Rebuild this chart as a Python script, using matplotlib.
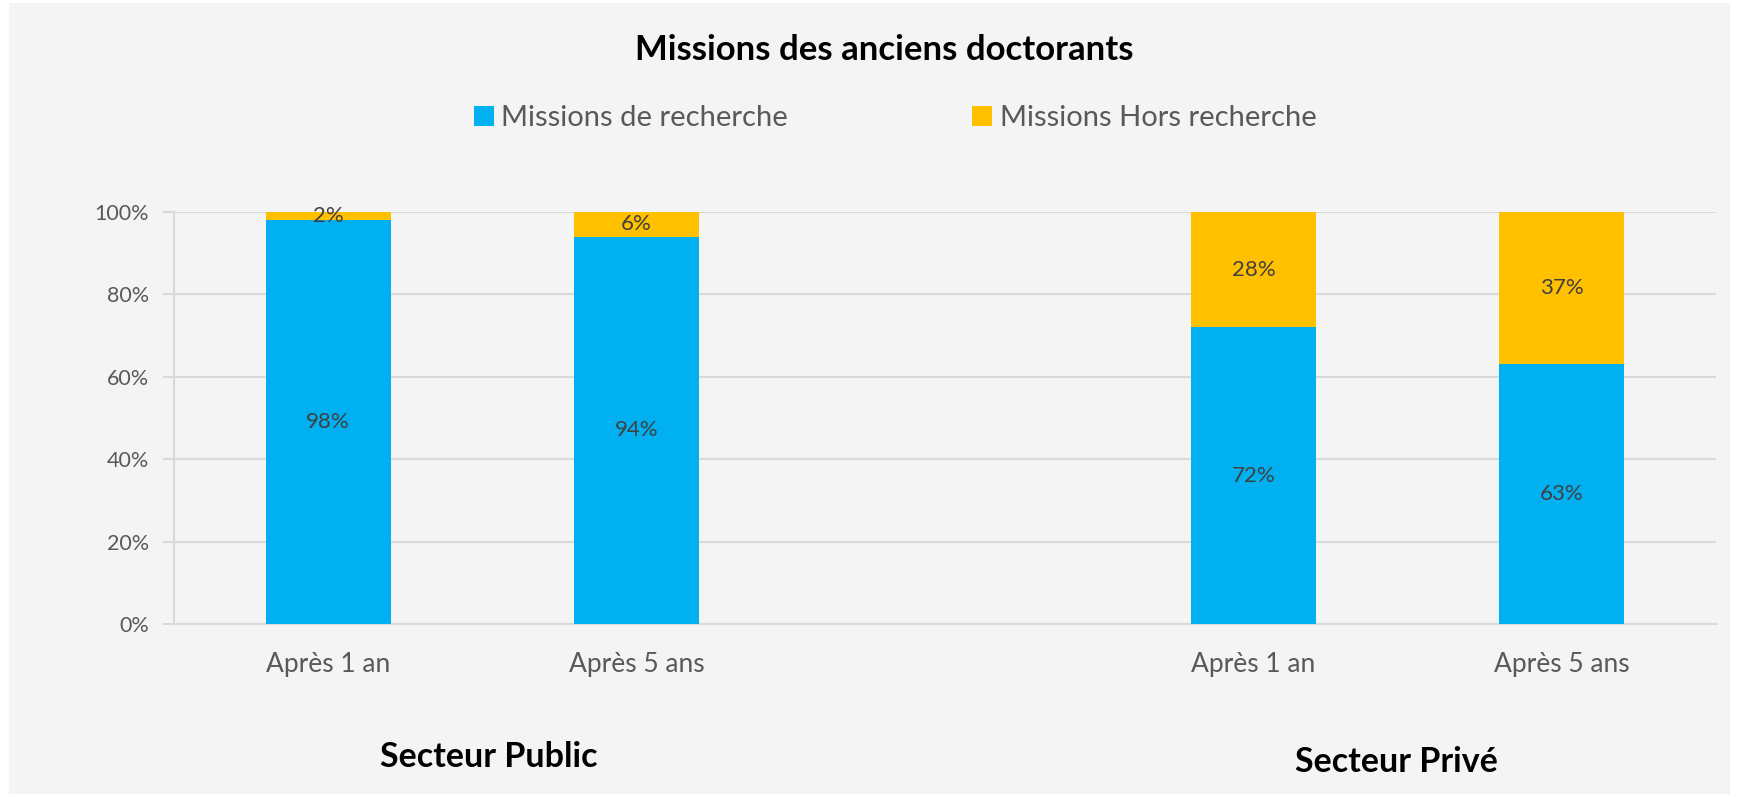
import numpy as np
import matplotlib.pyplot as plt
from matplotlib.patches import Rectangle

# data
secteurs = ["Secteur Public", "Secteur Privé"]
periodes = ["Après 1 an", "Après 5 ans"]
recherche = [98, 94, 72, 63]      # Missions de recherche (%)
hors_recherche = [2, 6, 28, 37]   # Missions Hors recherche (%)

bleu = "#00B0F0"
orange = "#FFC000"
gris_txt = "#595959"
gris_grid = "#D9D9D9"
fond = "#F4F4F4"

plt.rcParams['font.family'] = ['Lato', 'DejaVu Sans']

fig = plt.figure(figsize=(17.39, 7.97), dpi=100, facecolor="white")
fig.patches.append(Rectangle((9 / 1739, 3 / 797), 1721 / 1739, 791 / 797,
                             transform=fig.transFigure, facecolor=fond,
                             edgecolor="none", zorder=-10))

ax = fig.add_axes([174 / 1739, 1 - 624 / 797, 1542 / 1739, 412 / 797])
ax.set_facecolor(fond)

# two groups of two bars with an empty slot between them
x = []
labels = []
for g, s in enumerate(secteurs):
    for j, p in enumerate(periodes):
        x.append(g * (len(periodes) + 1) + j)
        labels.append(p)
x = np.array(x)

w = 0.405
b1 = ax.bar(x, recherche, w, color=bleu, label="Missions de recherche", zorder=3)
b2 = ax.bar(x, hors_recherche, w, bottom=recherche, color=orange,
            label="Missions Hors recherche", zorder=3)

for xi, r, h in zip(x, recherche, hors_recherche):
    ax.text(xi, r / 2, f"{r}%", ha="center", va="center", fontsize=16,
            color="#404040", zorder=4)
    ax.text(xi, r + h / 2, f"{h}%", ha="center", va="center", fontsize=16,
            color="#404040", zorder=4)

ax.set_xlim(-0.5, x.max() + 0.5)
ax.set_ylim(0, 100)
ax.set_yticks(np.arange(0, 101, 20))
ax.set_yticklabels([f"{v}%" for v in range(0, 101, 20)])
ax.set_xticks(x)
ax.set_xticklabels(labels)
ax.tick_params(axis="y", colors=gris_grid, labelcolor=gris_txt, labelsize=15.5,
               length=8, width=1.5, pad=10)
ax.tick_params(axis="x", length=0, labelcolor=gris_txt, labelsize=19, pad=20)
ax.grid(axis="y", color=gris_grid, linewidth=1.5, zorder=0)
for sp in ["top", "right"]:
    ax.spines[sp].set_visible(False)
for sp in ["left", "bottom"]:
    ax.spines[sp].set_color(gris_grid)
    ax.spines[sp].set_linewidth(1.5)

fig.text(884 / 1739, 1 - 50 / 797, "Missions des anciens doctorants",
         ha="center", va="center", fontsize=25, fontweight="bold", color="black")

fig.legend(handles=[b1, b2], loc="center", bbox_to_anchor=(895 / 1739, 1 - 118 / 797),
           ncol=2, frameon=False, fontsize=21, labelcolor=gris_txt,
           handlelength=0.7, handleheight=0.7, handletextpad=0.25, columnspacing=6.3)

fig.text(489 / 1739, 1 - 757 / 797, secteurs[0], ha="center", va="center",
         fontsize=24.5, fontweight="bold", color="black")
fig.text(1396 / 1739, 1 - 762 / 797, secteurs[1], ha="center", va="center",
         fontsize=24.5, fontweight="bold", color="black")

fig.savefig("out.png", dpi=100, facecolor="white")
